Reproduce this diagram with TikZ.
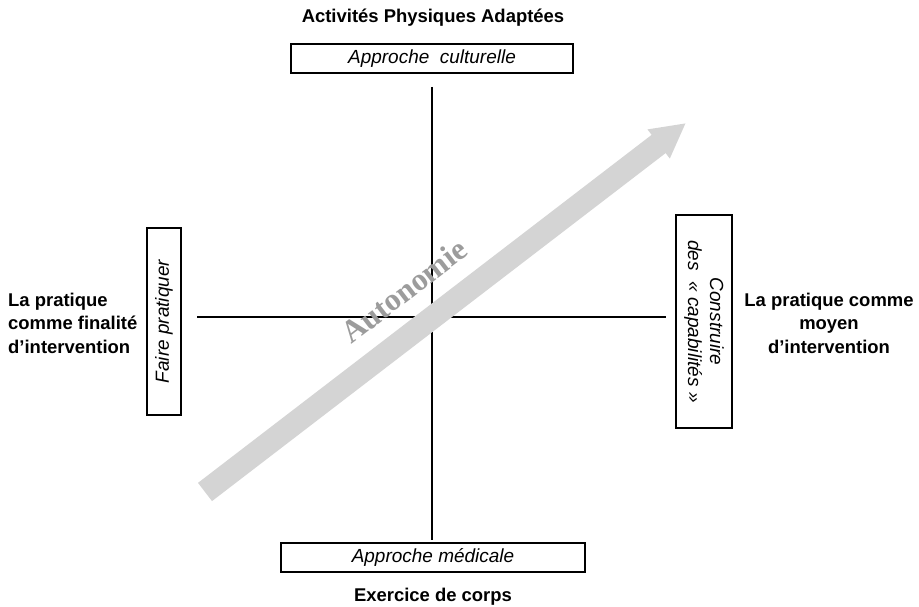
\documentclass[tikz,border=0pt]{standalone}
\usepackage{fontspec}
\setmainfont{Liberation Sans}
\newfontfamily\autofont{Liberation Serif}
\usetikzlibrary{arrows.meta}
\definecolor{arrowgray}{HTML}{D4D4D4}
\definecolor{textgray}{HTML}{9C9C9C}

\begin{document}
\begin{tikzpicture}[
		x=0.02cm, y=0.02cm,
		every node/.style={font=\fontsize{10.5}{13.4}\selectfont},
		approche/.style={draw, line width=0.8pt, inner sep=0pt, font=\fontsize{10.8}{12.5}\selectfont\itshape},
		pole/.style={font=\fontsize{10.5}{13.4}\selectfont\bfseries, align=center},
		axe/.style={line width=1.1pt}
	]
	\useasboundingbox (0,0) rectangle (919,607);

	% poles haut et bas
	\node[pole] (apa) at (433,589) {Activités Physiques Adaptées};
	\node[approche, minimum width=5.64cm, minimum height=0.58cm] (culturelle) at (432,548.5) {Approche\ \ culturelle};
	\node[approche, minimum width=6.08cm, minimum height=0.58cm] (medicale) at (433,49.5) {Approche médicale};
	\node[pole] (corps) at (433,10) {Exercice de corps};

	% poles gauche et droite
	\node[approche, rotate=90, minimum width=3.74cm, minimum height=0.68cm] (faire) at (164,285.5) {Faire pratiquer};
	\node[approche, rotate=-90, align=center, minimum width=4.26cm, minimum height=1.12cm] (capa) at (704,285.5) {Construire\\des\ \ «~capabilités~»};
	\node[pole, align=left, anchor=west] (finalite) at (2,284) {La pratique\\comme finalité\\d’intervention};
	\node[pole] (moyen) at (829,284) {La pratique comme\\moyen\\d’intervention};

	% axes
	\coordinate (nord) at (432,520);
	\coordinate (sud) at (432,67);
	\coordinate (ouest) at (197,290);
	\coordinate (est) at (666,290);
	\draw[axe] (nord) -- (sud);
	\draw[axe] (ouest) -- (est);

	% fleche autonomie
	\coordinate (autDepart) at (205,115);
	\coordinate (autFin) at (686,484);
	\draw[arrowgray, line width=0.46cm, -{Triangle[length=0.69cm, width=0.68cm]}] (autDepart) -- (autFin);
	\node[text=textgray, rotate=37.5, font=\autofont\bfseries\fontsize{18}{18}\selectfont] (auto) at (404,316) {Autonomie};

\end{tikzpicture}
\end{document}
